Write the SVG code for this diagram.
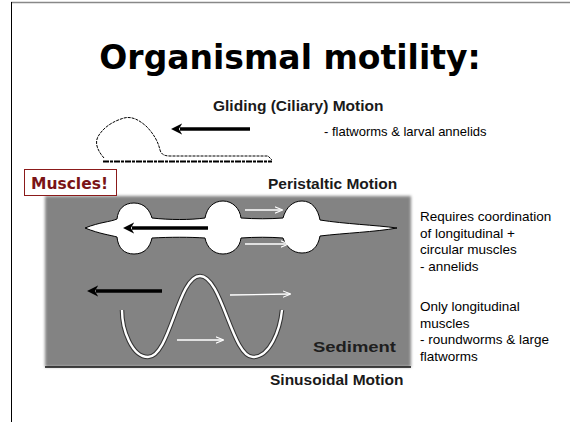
<svg xmlns="http://www.w3.org/2000/svg" width="570" height="422" viewBox="0 0 570 422">
  <style>
    .title { font-family: Tahoma, "DejaVu Sans", sans-serif; font-weight: bold; font-size: 33px; fill: #000; }
    .head { font-family: "Liberation Sans", Arial, sans-serif; font-weight: bold; font-size: 15.5px; fill: #1a1a1a; }
    .note { font-family: "Liberation Sans", Arial, sans-serif; font-size: 13px; fill: #000; }
    .side { font-family: "Liberation Sans", Arial, sans-serif; font-size: 13.5px; fill: #000; }
    .sed { font-family: "Liberation Sans", Arial, sans-serif; font-weight: bold; font-size: 15px; fill: #1e1e1e; }
    .tag { font-family: "DejaVu Sans", Tahoma, sans-serif; font-weight: bold; font-size: 15.5px; fill: #7a1416; }
    .black-arrow { stroke: #000; stroke-width: 3.5; fill: none; }
    .white-arrow { stroke: #fff; stroke-width: 1.3; fill: none; }
  </style>
  <defs>
    <marker id="headBlack" viewBox="0 0 10 10" refX="2" refY="5" markerWidth="3.2" markerHeight="3.2" orient="auto">
      <path d="M0,0 L10,5 L0,10 L3,5 Z" fill="#000"/>
    </marker>
    <marker id="headWhite" viewBox="0 0 10 10" refX="9" refY="5" markerWidth="8" markerHeight="8" orient="auto" markerUnits="userSpaceOnUse">
      <path d="M0,1 L10,5 L0,9" fill="none" stroke="#fff" stroke-width="1.3"/>
    </marker>
    <filter id="soft" x="-5%" y="-5%" width="110%" height="110%">
      <feGaussianBlur stdDeviation="1.5"/>
    </filter>
  </defs>

  <!-- slide frame -->
  <g id="frame">
    <line x1="11" y1="2.5" x2="570" y2="2.5" stroke="#888" stroke-width="1.5"/>
    <line x1="11.5" y1="2" x2="11.5" y2="422" stroke="#000" stroke-width="1"/>
  </g>

  <text class="title" x="290" y="69" text-anchor="middle">Organismal motility:</text>

  <!-- gliding motion -->
  <g id="gliding">
    <text class="head" x="213" y="111">Gliding (Ciliary) Motion</text>
    <text class="note" x="324" y="136">- flatworms &amp; larval annelids</text>
    <path d="M104,158 C97,150 94,142 99,135 C105,126 114,121 124,118 C132,116 139,120 146,126 C153,133 158,141 160,150 C161,154 164,156 170,156 L268,156 L272,160" fill="#fff" stroke="#000" stroke-width="1" stroke-dasharray="3,1"/>
    <line x1="103" y1="161.5" x2="272" y2="161.5" stroke="#000" stroke-width="2" stroke-dasharray="6,1,3,1"/>
    <line x1="250" y1="129" x2="180" y2="129" class="black-arrow" stroke-width="2.5" marker-end="url(#headBlack)"/>
  </g>

  <!-- sediment block -->
  <g id="sediment">
    <rect x="45" y="196" width="366" height="171" fill="#838383" filter="url(#soft)"/>
    <line x1="45" y1="367" x2="411" y2="367" stroke="#111" stroke-width="1.5"/>
    <text class="sed" x="313" y="352" textLength="83" lengthAdjust="spacingAndGlyphs">Sediment</text>
  </g>

  <!-- muscles tag -->
  <g id="muscles">
    <rect x="24.5" y="169.5" width="92" height="26" fill="#fff" stroke="#8b1a1a" stroke-width="1"/>
    <text class="tag" x="31" y="188.5">Muscles!</text>
  </g>

  <!-- peristaltic motion -->
  <g id="peristaltic">
    <text class="head" x="268" y="189">Peristaltic Motion</text>
    <path d="M85,228 C100,222 110,222 117,219 C118,209 124,203 134,203 C145,203 150,211 152,218 C170,220 190,220 205,218 C207,207 214,201 223,201 C233,201 240,209 241,218 C255,219 270,219 283,218 C286,207 293,201 302,201 C312,201 318,209 320,220 C345,224 375,225 397,228 C375,232 345,233 320,236 C318,247 312,253 302,253 C293,253 286,247 283,238 C270,237 255,237 241,238 C240,247 233,254 223,254 C214,254 207,248 205,238 C190,237 170,237 152,238 C150,247 145,254 134,254 C124,254 118,248 117,237 C110,235 100,234 85,228 Z" fill="#fff" stroke="#000" stroke-width="1"/>
    <line x1="208" y1="228" x2="132" y2="228" class="black-arrow" marker-end="url(#headBlack)"/>
    <line x1="245" y1="210" x2="282" y2="210" class="white-arrow" marker-end="url(#headWhite)"/>
    <line x1="245" y1="244" x2="288" y2="244" class="white-arrow" marker-end="url(#headWhite)"/>
  </g>

  <!-- sinusoidal motion -->
  <g id="sinusoidal">
    <text class="head" x="270" y="385">Sinusoidal Motion</text>
    <path d="M122,310 C122,330 132,357 148,357 C170,357 178,276 200,276 C222,276 232,357 253,357 C270,357 280,330 282,310" fill="none" stroke="#333" stroke-width="4.5"/>
    <path d="M122,310 C122,330 132,357 148,357 C170,357 178,276 200,276 C222,276 232,357 253,357 C270,357 280,330 282,310" fill="none" stroke="#fff" stroke-width="2.4"/>
    <line x1="162" y1="291" x2="96" y2="291" class="black-arrow" marker-end="url(#headBlack)"/>
    <line x1="230" y1="295" x2="290" y2="294" class="white-arrow" marker-end="url(#headWhite)"/>
    <line x1="177" y1="340" x2="223" y2="340" class="white-arrow" marker-end="url(#headWhite)"/>
  </g>

  <!-- notes -->
  <g id="notes">
    <text class="side" x="420" y="221">Requires coordination</text>
    <text class="side" x="420" y="237.5">of longitudinal +</text>
    <text class="side" x="420" y="254">circular muscles</text>
    <text class="side" x="420" y="270.5">- annelids</text>
    <text class="side" x="420" y="311">Only longitudinal</text>
    <text class="side" x="420" y="327.5">muscles</text>
    <text class="side" x="420" y="344">- roundworms &amp; large</text>
    <text class="side" x="420" y="360.5">flatworms</text>
  </g>
</svg>
